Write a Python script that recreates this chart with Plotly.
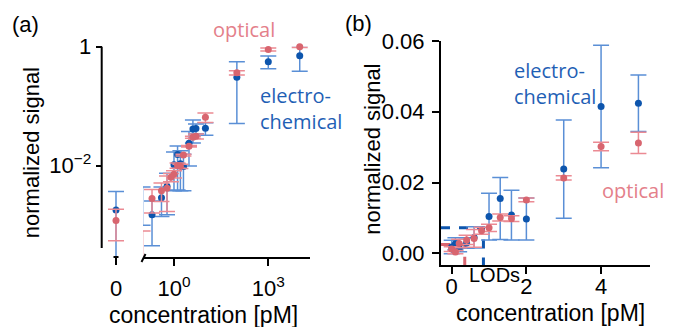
import plotly.graph_objects as go

# page body has an 8px default margin: the figure is placed at (8, 8) in the window
OX, OY = 8, 8
W, H = 668, 319

# ---------------- data ----------------
conc = [0, 0.1, 0.2, 0.4, 0.6, 0.8, 1.0, 1.3, 1.6, 2, 3, 4, 5, 10, 100, 1000, 10000]
electro = [0.0018, 0.0027, 0.0015, 0.0029, 0.0045, None, 0.0104, 0.0155, 0.0108, 0.0097,
           0.0238, 0.0415, 0.0424, 0.0425, 0.306, 0.56, 0.706]
electro_err_plus = [0.0019, 0.0017, 0.00105, 0.0015, 0.003, 0, 0.0066, 0.0059, 0.007, 0.0059,
                    0.0139, 0.0173, 0.008, 0.010, 0.255, 0.136, 0.32]
electro_err_minus = [0.0019, 0.0017, 0.00105, 0.0015, 0.003, 0, 0.0066, 0.0116, 0.007, 0.0059,
                     0.0139, 0.0173, 0.008, 0.010, 0.255, 0.136, 0.32]
optical = [0.0012, 0.00035, 0.0028, 0.0038, 0.0042, 0.0064, 0.0072, 0.0101, 0.0098, 0.0151,
           0.0213, 0.0302, 0.0312, 0.065, 0.366, 0.90, 1.0]
optical_err = [0.00065, 0.00045, 0.0012, 0.0013, 0.0025, 0.001, 0.001, 0.001, 0.0008, 0.0005,
               0.0006, 0.0012, 0.003, 0.012, 0.03, 0.05, 0.03]

lod_electro = (0.85, 0.0072)   # (concentration, signal)
lod_optical = (0.35, 0.0025)

x_ticks_a = [1, 1000]
x_ticktext_a = ["10<sup>0</sup>", "10<sup>3</sup>"]
y_ticks_a = [0.01, 1]
y_ticktext_a = ["10<sup>−2</sup>", "1"]
x_ticks_b = [0, 2, 4]
y_ticks_b = [0, 0.02, 0.04, 0.06]

# ---------------- style ----------------
BLUE = "#0d55ad"
BLUE_ERR = "#5a8fd6"
RED = "#d8656f"
RED_ERR = "#eb8a93"
BLUE_TXT = "#1f5fb5"
RED_TXT = "#e4808a"
FONT = "Liberation Sans, Arial, sans-serif"
LFONT = "Open Sans, Noto Sans, sans-serif"
FS = 22


def px(x):
    return (x - OX) / W


def py(y):
    return 1 - (y - OY) / H


pos_idx = [i for i, c in enumerate(conc) if c > 0]
zero_idx = [i for i, c in enumerate(conc) if c == 0]


def sub(lst, idx):
    return [lst[i] for i in idx]


fig = go.Figure()


def add_series(xax, yax, idx, clip):
    fig.add_trace(go.Scatter(
        x=sub(conc, idx), y=sub(electro, idx), xaxis=xax, yaxis=yax, mode="markers",
        marker=dict(color=BLUE, size=7),
        error_y=dict(type="data", symmetric=False, array=sub(electro_err_plus, idx),
                     arrayminus=sub(electro_err_minus, idx), color=BLUE_ERR,
                     thickness=1.5, width=8),
        cliponaxis=clip, showlegend=False))
    fig.add_trace(go.Scatter(
        x=sub(conc, idx), y=sub(optical, idx), xaxis=xax, yaxis=yax, mode="markers",
        marker=dict(color=RED, size=7),
        error_y=dict(type="data", array=sub(optical_err, idx), color=RED_ERR,
                     thickness=1.5, width=8),
        cliponaxis=clip, showlegend=False))


# panel (a): zero column + log axis
add_series("x", "y", zero_idx, False)
add_series("x2", "y", pos_idx, False)

# panel (b): linear
all_idx = list(range(len(conc)))
x_rng_b = [-0.286, 5.31]
y_rng_b = [-0.0033, 0.06]
for (lc, ls), col in ((lod_optical, RED), (lod_electro, BLUE)):
    fig.add_trace(go.Scatter(x=[x_rng_b[0], lc, lc], y=[ls, ls, y_rng_b[0]],
                             xaxis="x3", yaxis="y2", mode="lines",
                             line=dict(color=col, width=3, dash="dash"),
                             showlegend=False, hoverinfo="skip"))
add_series("x3", "y2", all_idx, True)

axis_common = dict(showgrid=False, zeroline=False, ticks="outside", tickwidth=1.5,
                   tickcolor="black", linecolor="black", automargin=False,
                   tickfont=dict(family=FONT, size=FS, color="black"))

fig.update_layout(
    width=W, height=H, margin=dict(l=0, r=0, t=0, b=0, pad=0),
    paper_bgcolor="white", plot_bgcolor="white",
    xaxis=dict(domain=[px(108), px(124)], range=[-1, 1], tickvals=[0], ticktext=["0"],
               showline=False, ticklen=7, anchor="y", ticklabelstandoff=5, **axis_common),
    xaxis2=dict(domain=[px(143), px(310)], type="log", range=[-0.986, 4.327],
                tickvals=x_ticks_a, ticktext=x_ticktext_a, showline=True, linewidth=2,
                ticklen=7, anchor="y", ticklabelstandoff=4, **axis_common),
    yaxis=dict(domain=[py(257), py(46.7)], type="log", range=[-3.534, 0],
               tickvals=y_ticks_a, ticktext=y_ticktext_a, showline=False,
               anchor="free", position=px(101.7), ticklen=6, **axis_common),
    xaxis3=dict(domain=[px(441), px(650)], range=x_rng_b, tickvals=x_ticks_b,
                showline=True, linewidth=2, ticklen=7, anchor="y2", ticklabelstandoff=-6,
                **axis_common),
    yaxis2=dict(domain=[py(265), py(41)], range=y_rng_b, tickvals=y_ticks_b,
                tickformat=".2f", showline=True, linewidth=2, ticklen=7, anchor="x3",
                ticklabelstandoff=3, **axis_common),
)

# spines / break marks for panel (a)
fig.add_shape(type="line", xref="paper", yref="paper", x0=px(101.7), x1=px(101.7),
              y0=py(248), y1=py(46.7), line=dict(color="black", width=2))
fig.add_shape(type="line", xref="paper", yref="paper", x0=px(113.5), x1=px(118.5),
              y0=py(257), y1=py(257), line=dict(color="black", width=2))
fig.add_shape(type="line", xref="paper", yref="paper", x0=px(141.5), x1=px(145.5),
              y0=py(262), y1=py(254), line=dict(color="black", width=2))


def ann(text, x, y, size=FS, color="black", family=FONT, angle=0, xanchor="center", align="center"):
    fig.add_annotation(text=text, x=px(x), y=py(y), xref="paper", yref="paper",
                       showarrow=False, textangle=angle, xanchor=xanchor, yanchor="middle",
                       align=align, font=dict(family=family, size=size, color=color))


ann("(a)", 25, 24)
ann("(b)", 359, 23)
ann("concentration [pM]", 203, 315, size=23)
ann("concentration [pM]", 550, 313, size=23)
ann("normalized signal", 31.7, 152.5, angle=-90)
ann("normalized signal", 371.7, 149, angle=-90)
ann("optical", 244, 29, size=20, color=RED_TXT, family=LFONT)
ann("electro-<br>chemical", 258, 108, size=20, color=BLUE_TXT, family=LFONT,
    xanchor="left", align="left")
ann("electro-<br>chemical", 511.7, 83, size=20, color=BLUE_TXT, family=LFONT,
    xanchor="left", align="left")
ann("optical", 633, 190, size=20, color=RED_TXT, family=LFONT)
ann("LODs", 494, 275, size=20)

fig.write_html("out.html")
